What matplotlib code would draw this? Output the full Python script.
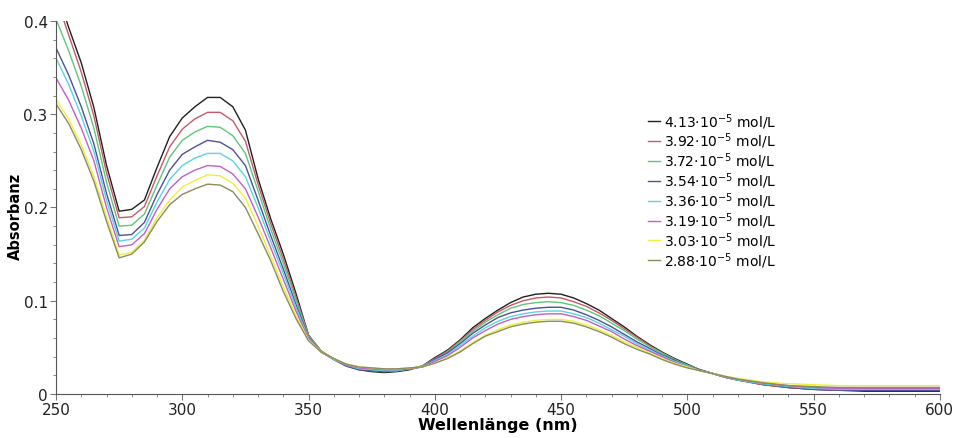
import numpy as np
import matplotlib
matplotlib.use("Agg")
import matplotlib.pyplot as plt
from matplotlib.ticker import MultipleLocator, FuncFormatter

# Wellenlängen (nm)
wl = [250, 255, 260, 265, 270, 275, 280, 285, 290, 295, 300, 305, 310, 315, 320, 325,
      330, 335, 340, 345, 350, 355, 360, 365, 370, 375, 380, 385, 390, 395, 400, 405,
      410, 415, 420, 425, 430, 435, 440, 445, 450, 455, 460, 465, 470, 475, 480, 485,
      490, 495, 500, 505, 510, 515, 520, 530, 540, 550, 560, 570, 580, 590, 600]

# Absorbanz je Konzentration
a_413 = [.435, .393, .355, .307, .245, .196, .198, .208, .243, .276, .296, .308, .318, .318, .308, .283,
         .231, .188, .150, .108, .063, .046, .037, .030, .026, .024, .023, .024, .026, .030, .039, .047,
         .058, .071, .081, .090, .098, .104, .107, .108, .107, .103, .097, .090, .081, .072, .062, .053,
         .045, .038, .032, .026, .022, .018, .015, .010, .007, .005, .004, .003, .003, .003, .003]
a_392 = [.425, .385, .345, .298, .237, .189, .190, .201, .234, .265, .284, .295, .302, .302, .293, .271,
         .225, .183, .145, .104, .063, .046, .038, .031, .027, .026, .025, .026, .027, .030, .038, .046,
         .057, .069, .079, .088, .095, .100, .103, .104, .103, .099, .094, .087, .079, .070, .061, .052,
         .044, .037, .031, .026, .022, .018, .015, .010, .007, .005, .004, .004, .004, .004, .004]
a_372 = [.402, .368, .330, .285, .227, .180, .181, .193, .224, .254, .272, .281, .287, .286, .277, .258,
         .218, .177, .140, .101, .062, .046, .037, .030, .027, .025, .024, .025, .027, .030, .037, .045,
         .056, .067, .077, .085, .092, .096, .098, .099, .098, .095, .090, .084, .076, .068, .059, .051,
         .044, .037, .031, .026, .022, .018, .015, .011, .008, .006, .005, .005, .005, .005, .005]
a_354 = [.371, .342, .308, .268, .215, .170, .171, .184, .214, .240, .257, .265, .272, .270, .262, .245,
         .208, .170, .134, .096, .061, .045, .037, .030, .026, .025, .024, .025, .027, .029, .037, .044,
         .054, .065, .074, .082, .087, .090, .092, .093, .093, .090, .085, .079, .072, .064, .056, .049,
         .042, .036, .030, .026, .022, .018, .015, .011, .007, .005, .004, .004, .004, .004, .004]
a_336 = [.360, .332, .298, .260, .208, .164, .166, .178, .206, .230, .245, .253, .258, .258, .250, .233,
         .200, .164, .129, .093, .060, .045, .037, .031, .027, .026, .025, .025, .027, .029, .036, .042,
         .052, .062, .071, .078, .083, .086, .088, .089, .089, .086, .082, .076, .069, .062, .054, .047,
         .041, .035, .030, .025, .022, .018, .015, .011, .008, .006, .005, .005, .005, .005, .005]
a_319 = [.339, .315, .285, .250, .200, .158, .160, .172, .198, .220, .233, .240, .245, .244, .236, .220,
         .190, .157, .123, .089, .059, .045, .038, .031, .028, .027, .026, .026, .027, .029, .035, .041,
         .050, .060, .068, .075, .080, .083, .085, .086, .086, .083, .079, .073, .067, .059, .052, .046,
         .040, .034, .029, .025, .022, .018, .016, .012, .009, .007, .006, .006, .006, .006, .006]
a_303 = [.316, .295, .267, .233, .190, .149, .152, .165, .189, .208, .222, .229, .235, .234, .226, .210,
         .180, .148, .115, .084, .058, .045, .038, .032, .029, .028, .027, .027, .028, .029, .033, .039,
         .046, .055, .063, .069, .074, .077, .079, .080, .080, .078, .074, .069, .063, .056, .050, .044,
         .038, .033, .029, .025, .022, .019, .017, .013, .011, .010, .009, .009, .009, .009, .009]
a_288 = [.311, .290, .262, .228, .185, .146, .150, .163, .185, .203, .214, .220, .225, .224, .217, .200,
         .172, .143, .110, .081, .057, .045, .038, .032, .029, .028, .027, .027, .028, .029, .033, .038,
         .045, .054, .062, .067, .072, .075, .077, .078, .078, .076, .072, .067, .061, .054, .048, .043,
         .037, .032, .028, .025, .022, .019, .016, .012, .009, .008, .007, .007, .007, .007, .007]

labels = ["4.13", "3.92", "3.72", "3.54", "3.36", "3.19", "3.03", "2.88"]
series = [a_413, a_392, a_372, a_354, a_336, a_319, a_303, a_288]
colors = ["#202020", "#c8586a", "#5cc878", "#505098", "#58d4e4", "#c060c8", "#eeee44", "#8c8c5c"]

fig = plt.figure(figsize=(9.58, 4.39), dpi=100)
ax = fig.add_axes([0.0585, 0.1002, 0.9225, 0.8498])

for lab, s, col in zip(labels, series, colors):
    ax.plot(wl, s, color=col, lw=1.0, label=lab + r"$\cdot$10$^{-5}$ mol/L")

ax.set_xlim(250, 600)
ax.set_ylim(0, 0.4)
ax.xaxis.set_major_locator(MultipleLocator(50))
ax.xaxis.set_minor_locator(MultipleLocator(10))
ax.yaxis.set_major_locator(MultipleLocator(0.1))
ax.yaxis.set_minor_locator(MultipleLocator(0.02))
ax.yaxis.set_major_formatter(FuncFormatter(lambda v, p: "0" if v == 0 else f"{v:.1f}"))

for side in ["top", "right"]:
    ax.spines[side].set_visible(False)
for side in ["left", "bottom"]:
    ax.spines[side].set_color("#555555")
ax.tick_params(which="both", colors="#777777", labelcolor="#222222", labelsize=11)
ax.tick_params(which="major", length=4, pad=2)
ax.tick_params(which="minor", length=2.5)

ax.set_xlabel("Wellenlänge (nm)", fontsize=11.5, fontweight="bold", labelpad=0)
ax.set_ylabel("Absorbanz", fontsize=10.5, fontweight="bold")
ax.yaxis.set_label_coords(-0.037, 0.48)

ax.legend(loc="upper left", bbox_to_anchor=(0.676, 0.745), bbox_transform=fig.transFigure,
          frameon=False, fontsize=10, handlelength=0.9, handletextpad=0.3,
          labelspacing=0.02, borderaxespad=0, borderpad=0)

fig.savefig("out.png", dpi=100)
